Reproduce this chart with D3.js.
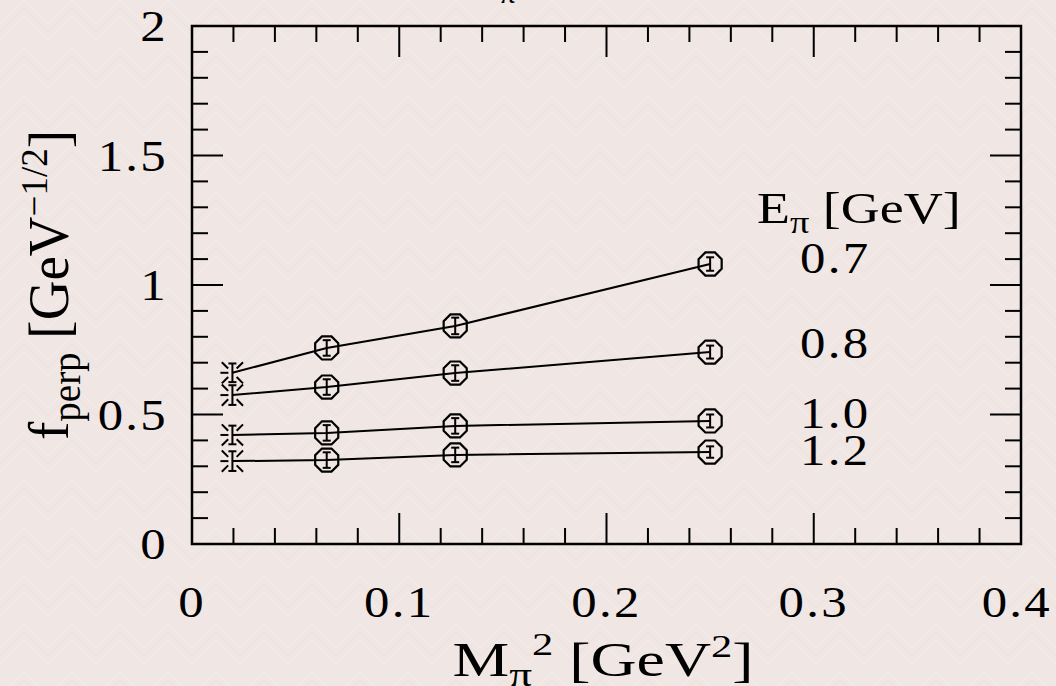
<!DOCTYPE html>
<html>
<head>
<meta charset="utf-8">
<script src="https://cdn.jsdelivr.net/npm/d3@7"></script>
<style>
  html, body { margin: 0; padding: 0; background: #f0e6e4; }
  svg { display: block; }
  text { font-family: "Liberation Serif", "DejaVu Serif", serif; fill: #000; }
</style>
</head>
<body>
<svg id="chart" width="1056" height="686"></svg>
<script>
// pion mass squared [GeV^2] of the simulated points
const mpiSq = [0.065, 0.127, 0.25];
// pion energies [GeV], one line per energy
const energies = ['0.7', '0.8', '1.0', '1.2'];
const fperp07 = [0.757, 0.842, 1.081];
const fperp08 = [0.606, 0.660, 0.741];
const fperp10 = [0.429, 0.456, 0.475];
const fperp12 = [0.324, 0.344, 0.355];
const err07 = [0.030, 0.032, 0.026];
const err08 = [0.030, 0.030, 0.025];
const err10 = [0.030, 0.030, 0.025];
const err12 = [0.030, 0.028, 0.022];
// chiral extrapolation to the physical pion mass
const chiralX = 0.0195;
const chiralY = [0.661, 0.575, 0.421, 0.320];
const chiralErr = [0.036, 0.038, 0.036, 0.038];
// where the energy labels sit, in f_perp units
const labelY = [1.104, 0.776, 0.506, 0.363];
const xTicks = [0, 0.1, 0.2, 0.3, 0.4];
const yTicks = [0, 0.5, 1, 1.5, 2];

const series = [fperp07, fperp08, fperp10, fperp12];
const errors = [err07, err08, err10, err12];

const chartHelpers = {
  margins: { top: 26, left: 192, right: 35, bottom: 142 },
  width: 1056,
  height: 686,
  x: d3.scaleLinear().domain([0, 0.4]),
  y: d3.scaleLinear().domain([0, 2]),
  fontSize: 45,
  stretch: 1.13,
  majorLen: 31,
  minorLen: 16
};

const svg = d3.select('#chart');
const m = chartHelpers.margins;
const x = chartHelpers.x.range([m.left, chartHelpers.width - m.right]);
const y = chartHelpers.y.range([chartHelpers.height - m.bottom, m.top]);

// text placed at (px,py) and widened a bit, the original font is broader
const wideText = (parent, px, py, size, anchor, sx) => parent.append('text')
  .attr('transform', `translate(${px},${py}) scale(${sx || chartHelpers.stretch},1)`)
  .attr('text-anchor', anchor || 'start')
  .attr('font-size', size);

// background with faint chevron texture
const defs = svg.append('defs');
const pat = defs.append('pattern')
  .attr('id', 'chev')
  .attr('width', 48).attr('height', 48)
  .attr('patternUnits', 'userSpaceOnUse');
pat.append('rect').attr('width', 48).attr('height', 48).attr('fill', '#f0e6e3');
[0, 8, 16].forEach((o, k) => {
  pat.append('path')
    .attr('d', `M0,${24 + o} L24,${o} L48,${24 + o}`)
    .attr('fill', 'none')
    .attr('stroke', k % 2 == 0 ? '#f3ebe9' : '#ede3e1')
    .attr('stroke-width', 1.5);
});
svg.append('rect').attr('width', chartHelpers.width).attr('height', chartHelpers.height)
  .attr('fill', 'url(#chev)');

const g = svg.append('g');

// frame
g.append('rect')
  .attr('x', x(0)).attr('y', y(2))
  .attr('width', x(0.4) - x(0)).attr('height', y(0) - y(2))
  .attr('fill', 'none').attr('stroke', '#000').attr('stroke-width', 2.5);

// ticks on all four sides
const xMinor = d3.range(0, 0.4001, 0.02);
const yMinor = d3.range(0, 2.0001, 0.1);
const isMajor = (v, step) => Math.abs(v / step - Math.round(v / step)) < 1e-6;

xMinor.forEach(v => {
  if (v < 1e-9 || v > 0.3999) return;
  const len = isMajor(v, 0.1) ? chartHelpers.majorLen : chartHelpers.minorLen;
  g.append('line').attr('x1', x(v)).attr('x2', x(v))
    .attr('y1', y(0)).attr('y2', y(0) - len)
    .attr('stroke', '#000').attr('stroke-width', 2);
  g.append('line').attr('x1', x(v)).attr('x2', x(v))
    .attr('y1', y(2)).attr('y2', y(2) + len)
    .attr('stroke', '#000').attr('stroke-width', 2);
});
yMinor.forEach(v => {
  if (v < 1e-9 || v > 1.9999) return;
  const len = isMajor(v, 0.5) ? chartHelpers.majorLen : chartHelpers.minorLen;
  g.append('line').attr('x1', x(0)).attr('x2', x(0) + len)
    .attr('y1', y(v)).attr('y2', y(v))
    .attr('stroke', '#000').attr('stroke-width', 2);
  g.append('line').attr('x1', x(0.4)).attr('x2', x(0.4) - len)
    .attr('y1', y(v)).attr('y2', y(v))
    .attr('stroke', '#000').attr('stroke-width', 2);
});

// tick labels, the last one pulled in so it stays inside the page
xTicks.forEach(d => {
  const t = wideText(g, x(d), y(0) + 73, chartHelpers.fontSize, 'middle')
    .style('letter-spacing', '2px').text(d);
  const half = t.node().getBBox().width * chartHelpers.stretch / 2;
  const px = Math.min(x(d), chartHelpers.width - 4 - half);
  t.attr('transform', `translate(${px},${y(0) + 73}) scale(${chartHelpers.stretch},1)`);
});
yTicks.forEach(d => {
  wideText(g, x(0) - 24, y(d) + 15, chartHelpers.fontSize, 'end')
    .style('letter-spacing', '2px').text(d);
});

// axis titles
const xt = wideText(g, 603, 676, 48, 'middle', 1.33);
xt.append('tspan').text('M');
xt.append('tspan').attr('dy', 10).attr('font-size', 34).text('π');
xt.append('tspan').attr('dy', -31).attr('font-size', 32).text('2');
xt.append('tspan').attr('dy', 21).text('\u00a0[GeV');
xt.append('tspan').attr('dy', -19).attr('font-size', 32).text('2');
xt.append('tspan').attr('dy', 19).text(']');

const yt = g.append('text')
  .attr('transform', 'translate(68,285) scale(1.02,1) rotate(-90)')
  .attr('text-anchor', 'middle')
  .attr('font-size', 55);
yt.append('tspan').text('f');
yt.append('tspan').attr('dy', 12).attr('font-size', 39).text('perp');
yt.append('tspan').attr('dy', -12).text('\u00a0[GeV');
yt.append('tspan').attr('dy', -21).attr('font-size', 37).text('−1/2');
yt.append('tspan').attr('dy', 21).text(']');

// cut-off title at the very top
svg.append('text').attr('x', 500).attr('y', 3).attr('font-size', 30).text('π');

// lines from chiral point through the data
series.forEach((s, i) => {
  const pts = [[chiralX, chiralY[i]]].concat(mpiSq.map((mx, j) => [mx, s[j]]));
  g.append('path')
    .datum(pts)
    .attr('d', d3.line().x(d => x(d[0])).y(d => y(d[1])))
    .attr('fill', 'none').attr('stroke', '#000').attr('stroke-width', 2);
});

// octagon symbols with error bars
const octR = 12.5;
const octagon = d3.range(8).map(k => {
  const a = Math.PI / 8 + k * Math.PI / 4;
  return [octR * Math.cos(a), octR * Math.sin(a)];
});
series.forEach((s, i) => {
  mpiSq.forEach((mx, j) => {
    const cx = x(mx), cy = y(s[j]);
    const e = errors[i][j];
    const pg = g.append('g').attr('transform', `translate(${cx},${cy})`);
    pg.append('polygon')
      .attr('points', octagon.map(p => p.join(',')).join(' '))
      .attr('fill', 'none').attr('stroke', '#000').attr('stroke-width', 2.2);
    const dy = y(s[j] - e) - cy;
    pg.append('line').attr('x1', 0).attr('x2', 0).attr('y1', -dy).attr('y2', dy)
      .attr('stroke', '#000').attr('stroke-width', 2);
    [-dy, dy].forEach(yy => pg.append('line')
      .attr('x1', -4).attr('x2', 4).attr('y1', yy).attr('y2', yy)
      .attr('stroke', '#000').attr('stroke-width', 2));
  });
});

// burst symbols at the chiral limit
chiralY.forEach((cyv, i) => {
  const cx = x(chiralX), cy = y(cyv);
  const pg = g.append('g').attr('transform', `translate(${cx},${cy})`);
  [45, 135, 225, 315].forEach(deg => {
    const a = deg * Math.PI / 180;
    pg.append('line')
      .attr('x1', 6 * Math.cos(a)).attr('y1', 6 * Math.sin(a))
      .attr('x2', 15 * Math.cos(a)).attr('y2', 15 * Math.sin(a))
      .attr('stroke', '#000').attr('stroke-width', 2);
  });
  pg.append('line').attr('x1', -12).attr('x2', -4).attr('y1', 0).attr('y2', 0)
    .attr('stroke', '#000').attr('stroke-width', 2);
  const dy = y(cyv - chiralErr[i]) - cy;
  pg.append('line').attr('x1', 0).attr('x2', 0).attr('y1', -dy).attr('y2', dy)
    .attr('stroke', '#000').attr('stroke-width', 2);
  [-dy, dy].forEach(yy => pg.append('line')
    .attr('x1', -4).attr('x2', 4).attr('y1', yy).attr('y2', yy)
    .attr('stroke', '#000').attr('stroke-width', 2));
});

// legend
const lt = wideText(g, 757, 223, 45, 'start', 1.2);
lt.append('tspan').text('E');
lt.append('tspan').attr('dy', 10).attr('font-size', 32).text('π');
lt.append('tspan').attr('dy', -10).text('\u00a0[GeV]');

energies.forEach((d, i) => {
  wideText(g, 800, y(labelY[i]) + 15, chartHelpers.fontSize)
    .style('letter-spacing', '2px').text(d);
});
</script>
</body>
</html>
